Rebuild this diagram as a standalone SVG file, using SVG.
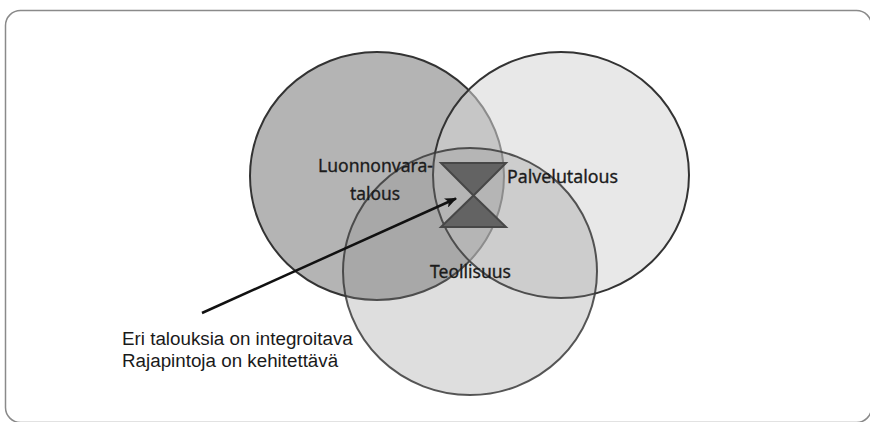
<svg xmlns="http://www.w3.org/2000/svg" width="870" height="422" viewBox="0 0 870 422">
  <style>
    .frame { fill: #ffffff; stroke: #8a8a8a; stroke-width: 1.5; }
    .ring { stroke: #333333; stroke-width: 2; }
    .label { font-family: "Noto Sans", "Open Sans", "Liberation Sans", sans-serif; font-size: 18.5px; fill: #1c1c1c; stroke: #1c1c1c; stroke-width: 0.35; }
    .note { font-family: "Liberation Sans", Arial, sans-serif; font-size: 18.8px; fill: #1a1a1a; }
    .glass { fill: #636363; stroke: #474747; stroke-width: 2; stroke-linejoin: miter; }
    .pointer { fill: none; stroke: #111111; stroke-width: 2.5; }
  </style>
  <defs>
    <marker id="head" viewBox="0 0 12 10" refX="11" refY="5" markerWidth="5" markerHeight="4" markerUnits="strokeWidth" orient="auto">
      <path d="M0,0 L12,5 L0,10 L3,5 Z" fill="#111111"/>
    </marker>
  </defs>

  <!-- rounded panel -->
  <rect class="frame" x="5.5" y="10.5" width="866" height="412" rx="15" ry="15"/>

  <!-- three overlapping sectors -->
  <g id="luonnonvaratalous">
    <ellipse class="ring" cx="377" cy="176" rx="127" ry="124" fill="#b4b4b4"/>
  </g>
  <g id="palvelutalous">
    <ellipse class="ring" cx="561" cy="175" rx="128" ry="123" fill="rgb(213,213,213)" fill-opacity="0.55"/>
  </g>
  <g id="teollisuus">
    <ellipse cx="470" cy="271.5" rx="127" ry="123.5" fill="rgb(143,143,143)" fill-opacity="0.29" stroke="#3a3a3a" stroke-width="2" stroke-opacity="0.85"/>
  </g>

  <!-- sector labels -->
  <g id="labels">
    <text class="label" x="375.5" y="172" text-anchor="middle" textLength="115" lengthAdjust="spacingAndGlyphs">Luonnonvara-</text>
    <text class="label" x="375" y="200" text-anchor="middle" textLength="50" lengthAdjust="spacingAndGlyphs">talous</text>
    <text class="label" x="507" y="183" textLength="111" lengthAdjust="spacingAndGlyphs">Palvelutalous</text>
    <text class="label" x="430" y="278" textLength="81" lengthAdjust="spacingAndGlyphs">Teollisuus</text>
  </g>

  <!-- hourglass at the common interface -->
  <g id="hourglass">
    <path class="glass" d="M441,163 L506,163 L473.5,195.5 Z"/>
    <path class="glass" d="M473.5,195.5 L506,227 L441,227 Z"/>
  </g>

  <!-- pointer from the note to the interface -->
  <g id="connectors">
    <line class="pointer" x1="202" y1="313" x2="456" y2="198.5" marker-end="url(#head)"/>
  </g>

  <g id="note">
    <text class="note" x="122" y="345">Eri talouksia on integroitava</text>
    <text class="note" x="122" y="367">Rajapintoja on kehitettävä</text>
  </g>
</svg>
